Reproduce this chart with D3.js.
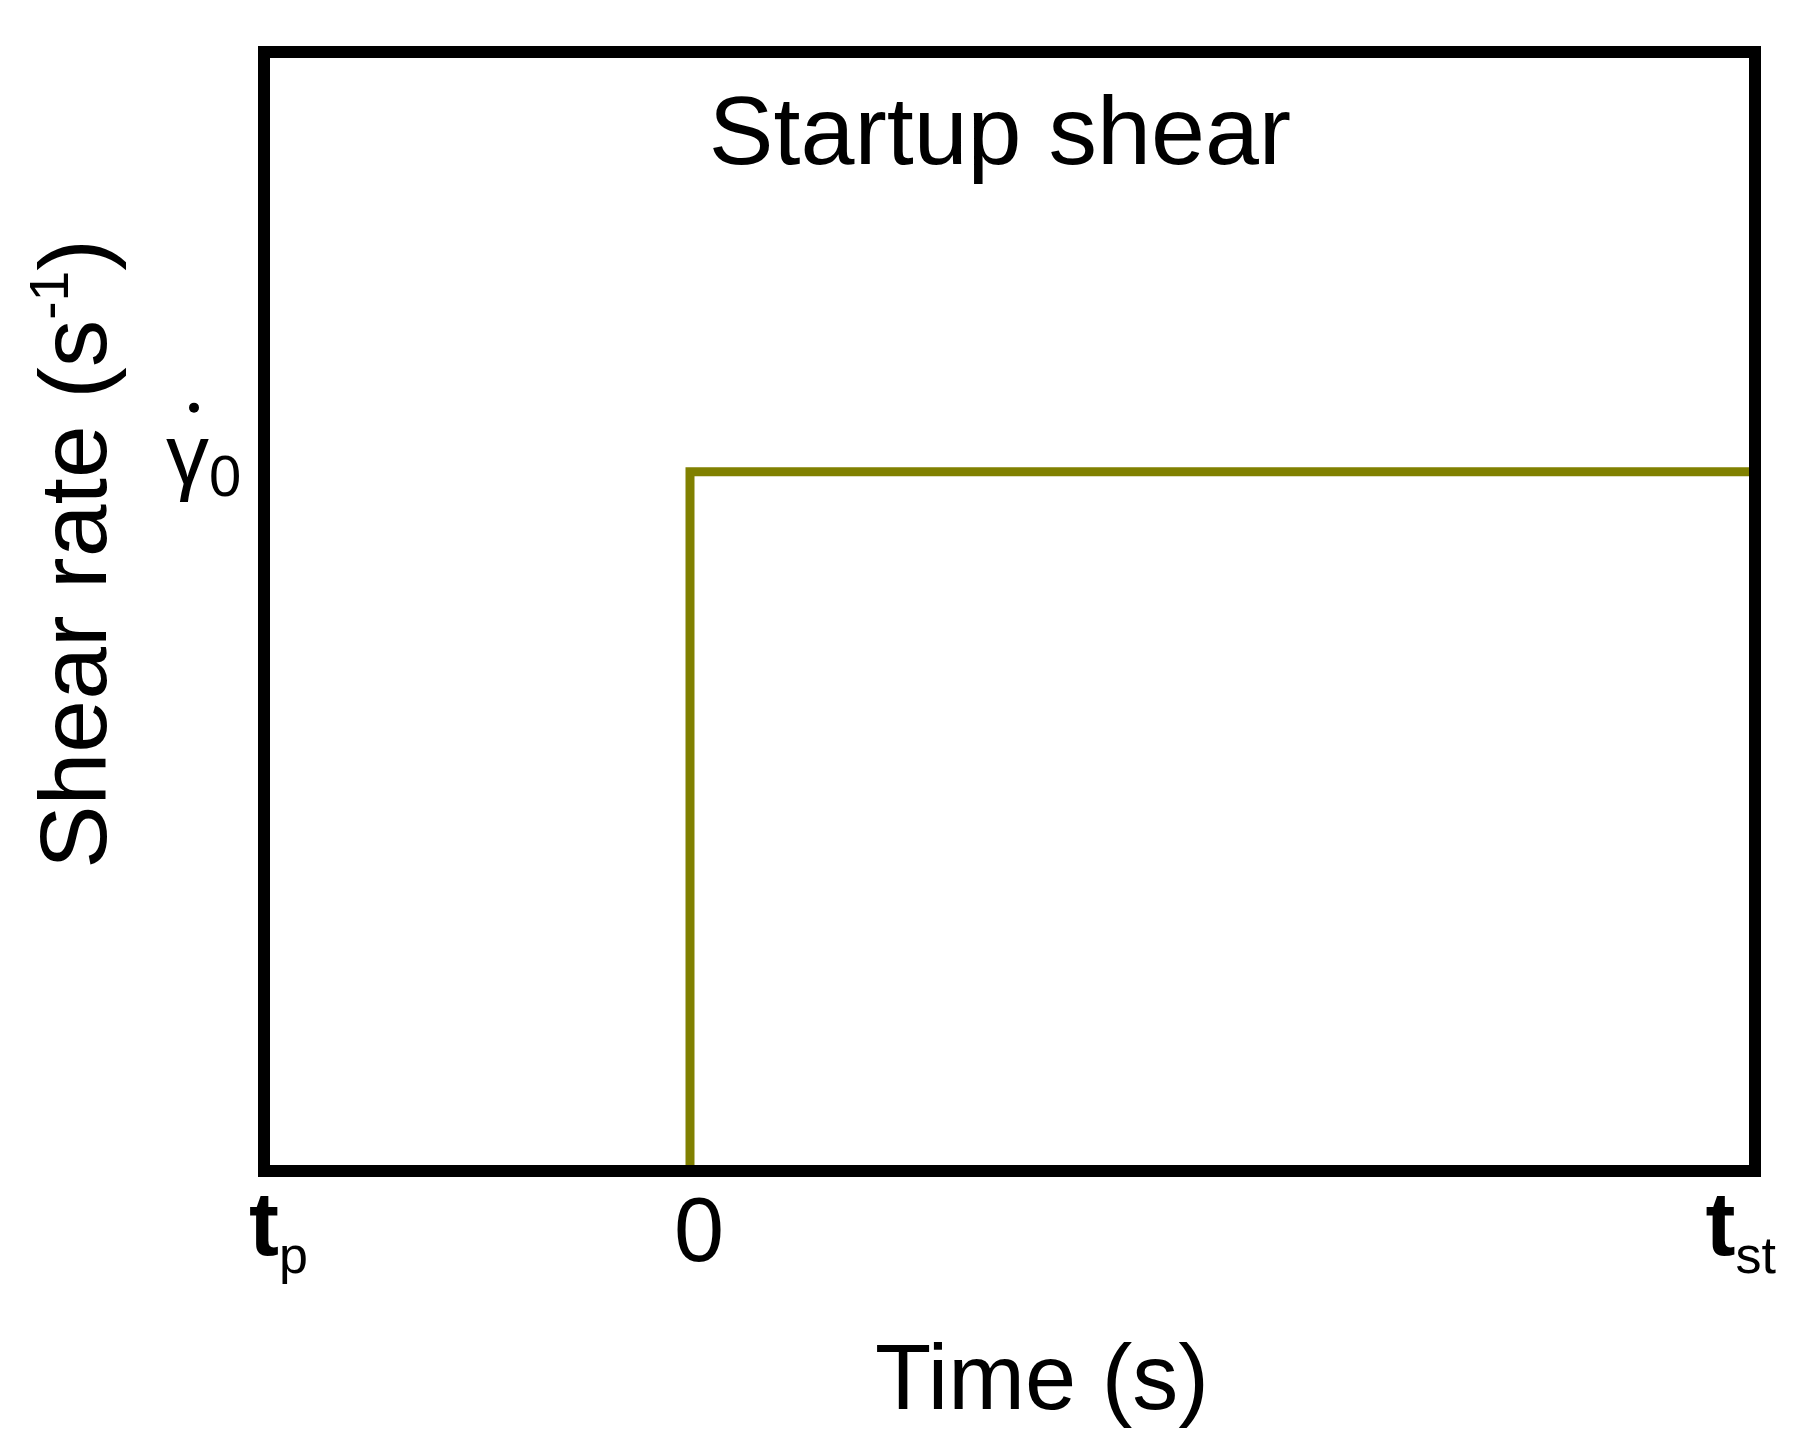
<!DOCTYPE html>
<html>
<head>
<meta charset="utf-8">
<script src="https://cdn.jsdelivr.net/npm/d3@7"></script>
<style>
  html, body { margin: 0; padding: 0; background: #fff; }
  svg { display: block; }
  text { font-family: "Liberation Sans", Arial, sans-serif; fill: #000; }
</style>
</head>
<body>
<svg id="chart" width="1814" height="1452"></svg>
<script>
// ---- data ----
const times = [0, 0, 2.5];          // time (relative units: tp = -1, tst = 2.5)
const shearRate = [0, 1, 1];        // shear rate in units of gamma0
const xTickValues = [-1, 0, 2.5];
const xTickMain = ["t", "0", "t"];
const xTickSub = ["p", "", "st"];
const yTickValues = [1];
const titleText = "Startup shear";
const xLabelText = "Time (s)";

// ---- layout ----
const svg = d3.select("#chart");
const margin = { left: 264, right: 1814 - 1755, top: 52, bottom: 1452 - 1171 };
const W = 1814, H = 1452;

const x = d3.scaleLinear().domain([-1, 2.5]).range([margin.left, W - margin.right]);
const y = d3.scaleLinear().domain([0, 1.6]).range([H - margin.bottom, margin.top]);

// step line
const pts = times.map((t, i) => [t, shearRate[i]]);
svg.append("path")
  .datum(pts)
  .attr("d", d3.line().x(d => x(d[0])).y(d => y(d[1])))
  .attr("fill", "none").attr("stroke", "#808000").attr("stroke-width", 9)
  .attr("stroke-linejoin", "miter");

// frame
svg.append("rect")
  .attr("x", x(-1)).attr("y", y(1.6))
  .attr("width", x(2.5) - x(-1)).attr("height", y(0) - y(1.6))
  .attr("fill", "none").attr("stroke", "#000").attr("stroke-width", 12);

// x axis (positions only)
const xAxis = d3.axisBottom(x).tickValues(xTickValues).tickSize(0).tickFormat("");
const gx = svg.append("g").attr("transform", `translate(0,${y(0)})`).call(xAxis);
gx.select(".domain").remove();

// x tick labels
const anchors = ["start", "middle", "end"];
const offs = [-15, 9, 21];
xTickValues.forEach((v, i) => {
  const t = gx.append("text")
    .attr("x", x(v) + offs[i])
    .attr("y", 1255 - y(0))
    .attr("text-anchor", anchors[i])
    .style("font-size", "90px");
  const main = t.append("tspan").text(xTickMain[i]);
  if (xTickMain[i] === "t") main.style("font-weight", "bold");
  else t.attr("y", 1261 - y(0));
  if (xTickSub[i]) {
    t.append("tspan").attr("dy", 18).style("font-size", "52px").text(xTickSub[i]);
  }
});

// y tick label: gamma-dot-zero
const gy = svg.append("g");
yTickValues.forEach(v => {
  const t = gy.append("text")
    .attr("x", 166).attr("y", y(v) + 12)
    .attr("text-anchor", "start")
    .style("font-size", "86px");
  t.append("tspan").text("γ");
  t.append("tspan").attr("dy", 12).style("font-size", "58px").text("0");
  gy.append("circle").attr("cx", 194).attr("cy", y(v) - 64).attr("r", 5).attr("fill", "#000");
});

// title
svg.append("text")
  .attr("x", 1000).attr("y", 164)
  .attr("text-anchor", "middle")
  .style("font-size", "97px")
  .text(titleText);

// x label
svg.append("text")
  .attr("x", 1042).attr("y", 1409)
  .attr("text-anchor", "middle")
  .style("font-size", "92px")
  .text(xLabelText);

// y label
const yl = svg.append("text")
  .attr("transform", `translate(106,554) rotate(-90)`)
  .attr("text-anchor", "middle")
  .style("font-size", "95px");
yl.append("tspan").text("Shear rate (s");
yl.append("tspan").attr("dy", -38).style("font-size", "55px").text("-1");
yl.append("tspan").attr("dy", 38).text(")");
</script>
</body>
</html>
